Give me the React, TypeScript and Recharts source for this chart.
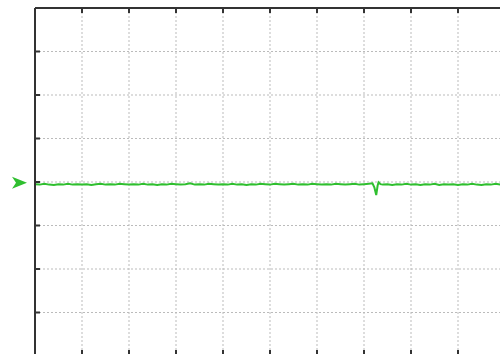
import { LineChart, Line, XAxis, YAxis, CartesianGrid, ReferenceDot } from "recharts"

// time axis in divisions, signal in divisions
const times = [
  0, 0.1, 0.2, 0.3, 0.4, 0.5, 0.6, 0.7, 0.8, 0.9,
  1, 1.1, 1.2, 1.3, 1.4, 1.5, 1.6, 1.7, 1.8, 1.9,
  2, 2.1, 2.2, 2.3, 2.4, 2.5, 2.6, 2.7, 2.8, 2.9,
  3, 3.1, 3.2, 3.3, 3.4, 3.5, 3.6, 3.7, 3.8, 3.9,
  4, 4.1, 4.2, 4.3, 4.4, 4.5, 4.6, 4.7, 4.8, 4.9,
  5, 5.1, 5.2, 5.3, 5.4, 5.5, 5.6, 5.7, 5.8, 5.9,
  6, 6.1, 6.2, 6.3, 6.4, 6.5, 6.6, 6.7, 6.8, 6.9,
  7, 7.1, 7.18, 7.22, 7.26, 7.29, 7.31, 7.35, 7.4, 7.5, 7.6, 7.7, 7.8, 7.9,
  8, 8.1, 8.2, 8.3, 8.4, 8.5, 8.6, 8.7, 8.8, 8.9,
  9, 9.1, 9.2, 9.3, 9.4, 9.5, 9.6, 9.7, 9.8, 9.9, 10,
]

const signal = [
  -0.05, -0.06, -0.04, -0.06, -0.07, -0.05, -0.06, -0.04, -0.06, -0.05,
  -0.06, -0.05, -0.07, -0.05, -0.04, -0.06, -0.05, -0.06, -0.04, -0.05,
  -0.06, -0.05, -0.06, -0.04, -0.06, -0.05, -0.07, -0.05, -0.06, -0.04,
  -0.05, -0.06, -0.05, -0.03, -0.06, -0.05, -0.06, -0.04, -0.05, -0.06,
  -0.05, -0.06, -0.04, -0.06, -0.05, -0.07, -0.05, -0.06, -0.04, -0.05,
  -0.06, -0.04, -0.05, -0.06, -0.05, -0.04, -0.06, -0.05, -0.06, -0.04,
  -0.05, -0.06, -0.05, -0.06, -0.04, -0.05, -0.06, -0.05, -0.04, -0.06,
  -0.05, -0.04, -0.03, -0.12, -0.3, -0.08, -0.01, -0.05, -0.06, -0.05, -0.07, -0.05, -0.06, -0.04,
  -0.06, -0.05, -0.07, -0.05, -0.06, -0.04, -0.07, -0.05, -0.06, -0.05,
  -0.07, -0.05, -0.06, -0.04, -0.06, -0.07, -0.05, -0.06, -0.04, -0.06, -0.05,
]

const xTicks = [0, 1, 2, 3, 4, 5, 6, 7, 8, 9, 10]
const yTicks = [-4, -3, -2, -1, 0, 1, 2, 3, 4]
const markerLevel = -0.02

const data = times.map((t, i) => ({ t, v: signal[i] }))

const GREEN = "#2fbf2f"
const AXIS = "#333"

const Marker = (props: any) => {
  const { cx, cy } = props
  const tip = cx - 8
  return (
    <path
      d={`M${tip - 15},${cy - 6} L${tip},${cy} L${tip - 15},${cy + 6} L${tip - 11},${cy} Z`}
      fill={GREEN}
    />
  )
}

const noLabel = () => <g />

export default function App() {
  return (
    <div style={{ width: 500, height: 354, overflow: "hidden", background: "#fff" }}>
      <style>{`body{margin:0;overflow:hidden}`}</style>
      <LineChart width={510} height={356} data={data} margin={{ top: 8, right: 5, left: 35, bottom: 0 }}>
        <CartesianGrid xAxisId="top" stroke="#bbb" strokeDasharray="2 2" />
        <XAxis
          xAxisId="top"
          orientation="top"
          type="number"
          dataKey="t"
          domain={[0, 10]}
          ticks={xTicks}
          mirror
          tick={noLabel}
          tickSize={5}
          axisLine={{ stroke: AXIS, strokeWidth: 2 }}
          tickLine={{ stroke: AXIS, strokeWidth: 2 }}
        />
        <XAxis
          xAxisId="bottom"
          orientation="bottom"
          type="number"
          dataKey="t"
          domain={[0, 10]}
          ticks={xTicks}
          mirror
          tick={noLabel}
          tickSize={6}
          axisLine={false}
          tickLine={{ stroke: AXIS, strokeWidth: 2 }}
        />
        <YAxis
          type="number"
          domain={[-4, 4]}
          ticks={yTicks}
          mirror
          tick={noLabel}
          tickSize={5}
          axisLine={{ stroke: AXIS, strokeWidth: 2 }}
          tickLine={{ stroke: AXIS, strokeWidth: 2 }}
        />
        <Line
          xAxisId="top"
          type="linear"
          dataKey="v"
          stroke={GREEN}
          strokeWidth={2}
          dot={false}
          isAnimationActive={false}
        />
        <ReferenceDot xAxisId="top" x={0} y={markerLevel} ifOverflow="visible" shape={Marker} />
      </LineChart>
    </div>
  )
}
